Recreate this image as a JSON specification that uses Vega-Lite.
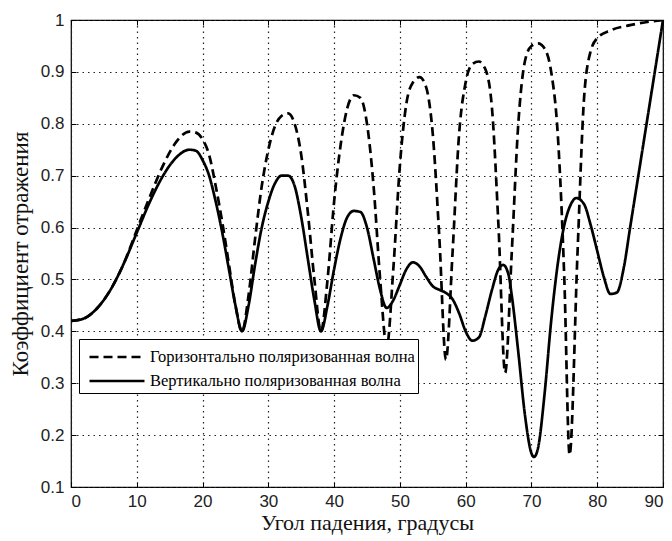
{
  "$schema": "https://vega.github.io/schema/vega-lite/v6.json",
  "width": 592,
  "height": 467,
  "autosize": "none",
  "padding": {"left": 71, "top": 20, "right": 9, "bottom": 54},
  "background": "white",
  "config": {
    "view": {"stroke": "black", "strokeWidth": 1.2},
    "axis": {"labelFont": "Liberation Sans", "labelFontSize": 17, "labelColor": "#222", "titleFont": "Liberation Serif", "titleFontWeight": "normal", "titleColor": "#111", "domain": false, "tickColor": "black"},
    "legend": {"labelFont": "Liberation Serif"}
  },
  "datasets": {
    "curves": [
      {"angle": 0, "R": 0.42, "s": "V"}, {"angle": 2, "R": 0.425, "s": "V"}, {"angle": 4, "R": 0.445, "s": "V"}, {"angle": 6, "R": 0.48, "s": "V"}, {"angle": 8, "R": 0.53, "s": "V"}, {"angle": 10, "R": 0.59, "s": "V"}, {"angle": 12, "R": 0.65, "s": "V"}, {"angle": 14, "R": 0.70, "s": "V"}, {"angle": 16, "R": 0.735, "s": "V"}, {"angle": 18, "R": 0.75, "s": "V"}, {"angle": 19, "R": 0.748, "s": "V"}, {"angle": 20, "R": 0.73, "s": "V"}, {"angle": 21, "R": 0.70, "s": "V"}, {"angle": 22, "R": 0.65, "s": "V"}, {"angle": 23, "R": 0.59, "s": "V"}, {"angle": 24, "R": 0.52, "s": "V"}, {"angle": 25, "R": 0.45, "s": "V"}, {"angle": 26, "R": 0.40, "s": "V"}, {"angle": 27, "R": 0.45, "s": "V"}, {"angle": 28, "R": 0.53, "s": "V"}, {"angle": 29, "R": 0.60, "s": "V"}, {"angle": 30, "R": 0.65, "s": "V"}, {"angle": 31, "R": 0.685, "s": "V"}, {"angle": 32, "R": 0.70, "s": "V"}, {"angle": 33, "R": 0.70, "s": "V"}, {"angle": 34, "R": 0.68, "s": "V"}, {"angle": 35, "R": 0.62, "s": "V"}, {"angle": 36, "R": 0.54, "s": "V"}, {"angle": 37, "R": 0.46, "s": "V"}, {"angle": 38, "R": 0.40, "s": "V"}, {"angle": 39, "R": 0.45, "s": "V"}, {"angle": 40, "R": 0.52, "s": "V"}, {"angle": 41, "R": 0.58, "s": "V"}, {"angle": 42, "R": 0.62, "s": "V"}, {"angle": 43, "R": 0.632, "s": "V"}, {"angle": 44, "R": 0.63, "s": "V"}, {"angle": 45, "R": 0.60, "s": "V"}, {"angle": 46, "R": 0.54, "s": "V"}, {"angle": 47, "R": 0.48, "s": "V"}, {"angle": 48, "R": 0.445, "s": "V"}, {"angle": 49, "R": 0.46, "s": "V"}, {"angle": 50, "R": 0.49, "s": "V"}, {"angle": 51, "R": 0.52, "s": "V"}, {"angle": 52, "R": 0.533, "s": "V"}, {"angle": 53, "R": 0.525, "s": "V"}, {"angle": 54, "R": 0.505, "s": "V"}, {"angle": 55, "R": 0.487, "s": "V"}, {"angle": 56, "R": 0.48, "s": "V"}, {"angle": 57, "R": 0.474, "s": "V"}, {"angle": 58, "R": 0.462, "s": "V"}, {"angle": 59, "R": 0.435, "s": "V"}, {"angle": 60, "R": 0.40, "s": "V"}, {"angle": 61, "R": 0.382, "s": "V"}, {"angle": 62, "R": 0.388, "s": "V"}, {"angle": 63, "R": 0.43, "s": "V"}, {"angle": 64, "R": 0.48, "s": "V"}, {"angle": 65, "R": 0.52, "s": "V"}, {"angle": 65.7, "R": 0.528, "s": "V"}, {"angle": 66.5, "R": 0.51, "s": "V"}, {"angle": 67, "R": 0.47, "s": "V"}, {"angle": 68, "R": 0.36, "s": "V"}, {"angle": 69, "R": 0.24, "s": "V"}, {"angle": 70, "R": 0.165, "s": "V"}, {"angle": 70.4, "R": 0.158, "s": "V"}, {"angle": 71, "R": 0.175, "s": "V"}, {"angle": 72, "R": 0.28, "s": "V"}, {"angle": 73, "R": 0.42, "s": "V"}, {"angle": 74, "R": 0.53, "s": "V"}, {"angle": 75, "R": 0.605, "s": "V"}, {"angle": 76, "R": 0.645, "s": "V"}, {"angle": 76.8, "R": 0.657, "s": "V"}, {"angle": 78, "R": 0.645, "s": "V"}, {"angle": 79, "R": 0.605, "s": "V"}, {"angle": 80, "R": 0.555, "s": "V"}, {"angle": 81, "R": 0.505, "s": "V"}, {"angle": 82, "R": 0.472, "s": "V"}, {"angle": 83, "R": 0.475, "s": "V"}, {"angle": 84, "R": 0.52, "s": "V"}, {"angle": 85, "R": 0.60, "s": "V"}, {"angle": 86, "R": 0.68, "s": "V"}, {"angle": 87, "R": 0.76, "s": "V"}, {"angle": 88, "R": 0.84, "s": "V"}, {"angle": 89, "R": 0.92, "s": "V"}, {"angle": 90, "R": 1.0, "s": "V"},
      {"angle": 0, "R": 0.42, "s": "H"}, {"angle": 2, "R": 0.425, "s": "H"}, {"angle": 4, "R": 0.445, "s": "H"}, {"angle": 6, "R": 0.48, "s": "H"}, {"angle": 8, "R": 0.53, "s": "H"}, {"angle": 10, "R": 0.595, "s": "H"}, {"angle": 12, "R": 0.66, "s": "H"}, {"angle": 14, "R": 0.72, "s": "H"}, {"angle": 16, "R": 0.765, "s": "H"}, {"angle": 18, "R": 0.785, "s": "H"}, {"angle": 19, "R": 0.783, "s": "H"}, {"angle": 20, "R": 0.77, "s": "H"}, {"angle": 21, "R": 0.74, "s": "H"}, {"angle": 22, "R": 0.68, "s": "H"}, {"angle": 23, "R": 0.61, "s": "H"}, {"angle": 24, "R": 0.53, "s": "H"}, {"angle": 25, "R": 0.45, "s": "H"}, {"angle": 26, "R": 0.40, "s": "H"}, {"angle": 27, "R": 0.47, "s": "H"}, {"angle": 28, "R": 0.58, "s": "H"}, {"angle": 29, "R": 0.68, "s": "H"}, {"angle": 30, "R": 0.75, "s": "H"}, {"angle": 31, "R": 0.795, "s": "H"}, {"angle": 32, "R": 0.815, "s": "H"}, {"angle": 33, "R": 0.82, "s": "H"}, {"angle": 34, "R": 0.80, "s": "H"}, {"angle": 35, "R": 0.74, "s": "H"}, {"angle": 36, "R": 0.63, "s": "H"}, {"angle": 37, "R": 0.50, "s": "H"}, {"angle": 38, "R": 0.40, "s": "H"}, {"angle": 39, "R": 0.50, "s": "H"}, {"angle": 40, "R": 0.65, "s": "H"}, {"angle": 41, "R": 0.76, "s": "H"}, {"angle": 42, "R": 0.83, "s": "H"}, {"angle": 43, "R": 0.855, "s": "H"}, {"angle": 44, "R": 0.85, "s": "H"}, {"angle": 45, "R": 0.80, "s": "H"}, {"angle": 46, "R": 0.68, "s": "H"}, {"angle": 47, "R": 0.50, "s": "H"}, {"angle": 48, "R": 0.37, "s": "H"}, {"angle": 49, "R": 0.52, "s": "H"}, {"angle": 50, "R": 0.72, "s": "H"}, {"angle": 51, "R": 0.84, "s": "H"}, {"angle": 52, "R": 0.88, "s": "H"}, {"angle": 53, "R": 0.89, "s": "H"}, {"angle": 54, "R": 0.87, "s": "H"}, {"angle": 55, "R": 0.78, "s": "H"}, {"angle": 56, "R": 0.58, "s": "H"}, {"angle": 57, "R": 0.345, "s": "H"}, {"angle": 58, "R": 0.55, "s": "H"}, {"angle": 59, "R": 0.78, "s": "H"}, {"angle": 60, "R": 0.88, "s": "H"}, {"angle": 61, "R": 0.915, "s": "H"}, {"angle": 62, "R": 0.92, "s": "H"}, {"angle": 63, "R": 0.905, "s": "H"}, {"angle": 64, "R": 0.83, "s": "H"}, {"angle": 65, "R": 0.60, "s": "H"}, {"angle": 66, "R": 0.32, "s": "H"}, {"angle": 67, "R": 0.55, "s": "H"}, {"angle": 68, "R": 0.80, "s": "H"}, {"angle": 69, "R": 0.92, "s": "H"}, {"angle": 70, "R": 0.95, "s": "H"}, {"angle": 71, "R": 0.955, "s": "H"}, {"angle": 72, "R": 0.945, "s": "H"}, {"angle": 73, "R": 0.90, "s": "H"}, {"angle": 74, "R": 0.78, "s": "H"}, {"angle": 75, "R": 0.50, "s": "H"}, {"angle": 75.8, "R": 0.162, "s": "H"}, {"angle": 77, "R": 0.55, "s": "H"}, {"angle": 78, "R": 0.85, "s": "H"}, {"angle": 79, "R": 0.94, "s": "H"}, {"angle": 80, "R": 0.965, "s": "H"}, {"angle": 82, "R": 0.98, "s": "H"}, {"angle": 85, "R": 0.99, "s": "H"}, {"angle": 88, "R": 0.997, "s": "H"}, {"angle": 90, "R": 1.0, "s": "H"}
    ]
  },
  "data": {"name": "curves"},
  "transform": [
    {"lookup": "s", "from": {"data": {"values": [{"s": "H", "name": "Горизонтально поляризованная волна"}, {"s": "V", "name": "Вертикально поляризованная волна"}]}, "key": "s", "fields": ["name"]}}
  ],
  "layer": [
    {
      "mark": {"type": "line", "strokeWidth": 2.7, "interpolate": "monotone", "clip": true},
      "encoding": {
        "x": {"field": "angle", "type": "quantitative", "scale": {"domain": [0, 90], "nice": false},
          "axis": {"title": "Угол падения, градусы", "titleFontSize": 22, "values": [0, 10, 20, 30, 40, 50, 60, 70, 80, 90], "grid": true, "gridColor": "#222", "gridDash": [1.5, 4], "gridWidth": 1.2, "tickSize": -5, "labelPadding": 11, "titlePadding": 3}},
        "y": {"field": "R", "type": "quantitative", "scale": {"domain": [0.1, 1], "nice": false},
          "axis": {"title": "Коэффициент отражения", "titleFontSize": 23, "values": [0.1, 0.2, 0.3, 0.4, 0.5, 0.6, 0.7, 0.8, 0.9, 1], "format": ".1~f", "labelExpr": "datum.value == 1 ? '1' : datum.label", "grid": true, "gridColor": "#222", "gridDash": [1.5, 4], "gridWidth": 1.2, "tickSize": -5, "labelPadding": 12, "titlePadding": 8}},
        "color": {"field": "name", "type": "nominal", "scale": {"domain": ["Горизонтально поляризованная волна", "Вертикально поляризованная волна"], "range": ["black", "black"]},
          "legend": {"title": null, "orient": "none", "legendX": 8, "legendY": 319, "direction": "vertical", "symbolType": "M-2,0H2", "symbolSize": 756, "symbolStrokeWidth": 2.5, "symbolOffset": 20, "labelOffset": 18, "labelFont": "Liberation Serif", "labelFontSize": 16.5, "labelColor": "black", "labelLimit": 400, "fillColor": "white", "strokeColor": "black", "padding": 3, "rowPadding": 0}},
        "strokeDash": {"field": "name", "type": "nominal", "scale": {"domain": ["Горизонтально поляризованная волна", "Вертикально поляризованная волна"], "range": [[9, 5], [1, 0]]}, "legend": null}
      }
    },
    {
      "mark": {"type": "line", "opacity": 0},
      "encoding": {
        "x": {"field": "angle", "type": "quantitative", "axis": {"orient": "top", "title": null, "labels": false, "grid": false, "values": [0, 10, 20, 30, 40, 50, 60, 70, 80, 90], "tickSize": -5}},
        "y": {"field": "R", "type": "quantitative", "axis": {"orient": "right", "title": null, "labels": false, "grid": false, "values": [0.1, 0.2, 0.3, 0.4, 0.5, 0.6, 0.7, 0.8, 0.9, 1], "tickSize": -5}},
        "detail": {"field": "s"}
      }
    }
  ],
  "resolve": {"axis": {"x": "independent", "y": "independent"}}
}
